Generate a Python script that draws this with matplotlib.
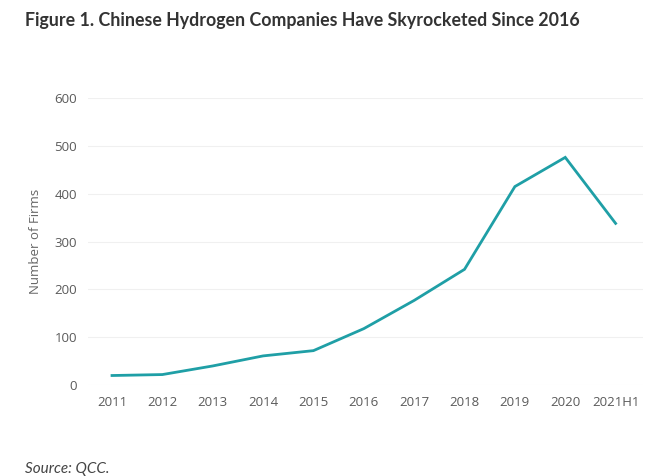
import matplotlib
matplotlib.use("Agg")
import matplotlib.pyplot as plt

## Data
years = ["2011", "2012", "2013", "2014", "2015", "2016",
         "2017", "2018", "2019", "2020", "2021H1"]
firms = [20, 22, 40, 61, 72, 118, 177, 242, 415, 476, 338]
yticks = [0, 100, 200, 300, 400, 500, 600]

lineColor = "#1f9fa6"
tickColor = "#5a5a5a"

plt.rcParams["font.family"] = ["Open Sans", "DejaVu Sans"]

fig = plt.figure(figsize=(6.62, 4.76), dpi=100)
ax = fig.add_axes([0.133, 0.191, 0.838, 0.603])

x = list(range(len(years)))
ax.plot(x, firms, color=lineColor, linewidth=2.0, solid_joinstyle="miter")

ax.set_xlim(-0.476, 10.54)
ax.set_ylim(0, 600)
ax.set_xticks(x)
ax.set_xticklabels(years)
ax.set_yticks(yticks)

for s in ax.spines.values():
    s.set_visible(False)
ax.grid(axis="y", color="#f0f0f0", linewidth=0.8)
ax.set_axisbelow(True)
ax.tick_params(length=0, labelsize=9.5, labelcolor=tickColor, pad=8)

ax.set_ylabel("Number of Firms", fontsize=9.5, color="#666666", labelpad=9)

fig.text(0.038, 0.957, "Figure 1. Chinese Hydrogen Companies Have Skyrocketed Since 2016",
         fontsize=12.8, fontweight="bold", family="Lato", color="#333333",
         va="center", ha="left")
fig.text(0.038, 0.015, "Source: QCC.", fontsize=11, style="italic",
         family="Lato", color="#444444", va="center", ha="left")

fig.savefig("out.png", dpi=100)
